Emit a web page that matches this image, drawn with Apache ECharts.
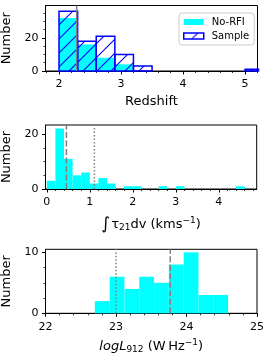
<!DOCTYPE html>
<html><head><meta charset="utf-8">
<script src="https://cdn.jsdelivr.net/npm/echarts@6/dist/echarts.min.js"></script>
<style>html,body{margin:0;padding:0;background:#fff}#c{width:269px;height:359px}</style>
</head><body><div id="c"></div>
<script>
// ---- Panel 1: redshift ----
const zBinLeft = [2.0, 2.3, 2.6, 2.9, 3.2, 5.0];
const zBinWidth = 0.3;
const zNoRFI = [32, 16, 8, 4, 0, 0];
const zSample = [36, 18, 21, 10, 3, 1];
const zMedian = 2.285;
const zTicks = [2, 3, 4, 5];
const zCountTicks = [0, 20];

// ---- Panel 2: integrated optical depth ----
const tauBinLeft = [0.0, 0.2, 0.4, 0.6, 0.8, 1.0, 1.2, 1.4, 1.8, 2.0, 2.6, 3.0, 4.4];
const tauBinWidth = 0.2;
const tauCounts = [3, 22, 11, 5, 6, 2, 4, 2, 1, 1, 1, 1, 1];
const tauDashed = 0.456;
const tauDotted = 1.107;
const tauTicks = [0, 1, 2, 3, 4];
const tauCountTicks = [0, 20];

// ---- Panel 3: log L912 ----
const lBinLeft = [22.70, 22.91, 23.12, 23.33, 23.54, 23.75, 23.96, 24.17, 24.38];
const lBinWidth = 0.21;
const lCounts = [2, 6, 4, 6, 5, 8, 10, 3, 3];
const lDotted = 23.0;
const lDashed = 23.77;
const lTicks = [22, 23, 24, 25];
const lCountTicks = [0, 10];

const FONT = 'DejaVu Sans';
const BLUE = '#0000ff', CYAN = '#00ffff', GRAY = '#808080';

function histData(left, w, counts) {
  return left.map((x, i) => [x, +(x + w).toFixed(4), counts[i]]);
}
function minors(min, max, step, majors) {
  const out = [];
  const n0 = Math.ceil(min / step - 1e-9), n1 = Math.floor(max / step + 1e-9);
  for (let n = n0; n <= n1; n++) {
    const v = +(n * step).toFixed(6);
    if (!majors.some(m => Math.abs(m - v) < 1e-6)) out.push(v);
  }
  return out;
}
function makeHatch() {
  const s = 14, c = document.createElement('canvas');
  c.width = c.height = s;
  const g = c.getContext('2d');
  g.strokeStyle = BLUE; g.lineWidth = 1.1;
  g.beginPath();
  g.moveTo(0, s); g.lineTo(s, 0);
  g.moveTo(-s / 2, s / 2); g.lineTo(s / 2, -s / 2);
  g.moveTo(s / 2, s * 1.5); g.lineTo(s * 1.5, s / 2);
  g.stroke();
  return c;
}
const hatch = { image: makeHatch(), repeat: 'repeat' };

function barRender(fill, stroke, lw) {
  return function (params, api) {
    const x0 = api.value(0), x1 = api.value(1), h = api.value(2);
    if (!h) return;
    const p0 = api.coord([x0, 0]), p1 = api.coord([x1, h]);
    const cs = params.coordSys;
    const r = echarts.graphic.clipRectByRect(
      { x: p0[0], y: p1[1], width: p1[0] - p0[0], height: p0[1] - p1[1] },
      { x: cs.x, y: cs.y, width: cs.width + 1, height: cs.height });
    if (!r) return;
    return { type: 'rect', shape: r, style: { fill: fill, stroke: stroke || null, lineWidth: lw || 0 } };
  };
}

const grids = [
  { left: 45.5, top: 5.5, width: 212, height: 65.5 },
  { left: 45.5, top: 125, width: 211.2, height: 64 },
  { left: 45.5, top: 249.3, width: 211.5, height: 64 }
];
const xr = [[1.782, 5.2], [-0.03, 4.88], [22, 25]];
const yr = [[0, 39.5], [0, 23.3], [0, 10.5]];
const xt = [zTicks, tauTicks, lTicks];
const yt = [zCountTicks, tauCountTicks, lCountTicks];
const xmStep = [0.2, 0.2, 0.2];
const ymStep = [5, 5, 2.5];

const xNames = [
  'Redshift',
  '{int|∫}{n|τ}{sub|21}{n|dv (kms}{sup|−1}{n|)}',
  '{it|logL}{sub|912}{n| (W\u2009Hz}{sup|−1}{n|)}'
];
const xNameGaps = [24, 27, 25];
const rich = {
  int: { fontSize: 17, fontFamily: FONT, color: '#000', padding: [0, 1, 0, 0] },
  n: { fontSize: 13, fontFamily: FONT, color: '#000' },
  it: { fontSize: 13, fontFamily: FONT, fontStyle: 'italic', color: '#000' },
  sub: { fontSize: 9, fontFamily: FONT, color: '#000', padding: [6, 0, 0, 0] },
  sup: { fontSize: 9, fontFamily: FONT, color: '#000', padding: [0, 0, 7, 0] }
};

const xAxis = [], yAxis = [];
for (let i = 0; i < 3; i++) {
  xAxis.push({
    type: 'value', gridIndex: i, min: xr[i][0], max: xr[i][1], position: 'bottom',
    axisLine: { show: true, onZero: false, lineStyle: { color: '#000', width: 1 } },
    axisTick: { show: true, inside: false, length: 3.5, customValues: xt[i], lineStyle: { color: '#000', width: 1 } },
    axisLabel: { customValues: xt[i], fontSize: 11, fontFamily: FONT, color: '#000', margin: 8 },
    splitLine: { show: false },
    name: xNames[i], nameLocation: 'middle', nameGap: xNameGaps[i],
    nameTextStyle: { fontSize: 13, fontFamily: FONT, color: '#000', rich: rich }
  });
  xAxis.push({
    type: 'value', gridIndex: i, min: xr[i][0], max: xr[i][1], position: 'bottom',
    axisLine: { show: false, onZero: false },
    axisTick: { show: true, inside: false, length: 2, customValues: minors(xr[i][0], xr[i][1], xmStep[i], xt[i]), lineStyle: { color: '#000', width: 0.8 } },
    axisLabel: { show: false }, splitLine: { show: false }
  });
  yAxis.push({
    type: 'value', gridIndex: i, min: yr[i][0], max: yr[i][1], position: 'left',
    axisLine: { show: true, onZero: false, lineStyle: { color: '#000', width: 1 } },
    axisTick: { show: true, inside: false, length: 3.5, customValues: yt[i], lineStyle: { color: '#000', width: 1 } },
    axisLabel: { customValues: yt[i], fontSize: 11, fontFamily: FONT, color: '#000', margin: 7 },
    splitLine: { show: false },
    name: 'Number', nameLocation: 'middle', nameGap: 25,
    nameTextStyle: { fontSize: 13, fontFamily: FONT, color: '#000' }
  });
  yAxis.push({
    type: 'value', gridIndex: i, min: yr[i][0], max: yr[i][1], position: 'left',
    axisLine: { show: false, onZero: false },
    axisTick: { show: true, inside: false, length: 2, customValues: minors(yr[i][0], yr[i][1], ymStep[i], yt[i]), lineStyle: { color: '#000', width: 0.8 } },
    axisLabel: { show: false }, splitLine: { show: false }
  });
}

function vline(name, panel, x, type) {
  return {
    name: name, type: 'line', xAxisIndex: panel * 2, yAxisIndex: panel * 2,
    data: [[x, yr[panel][0]], [x, yr[panel][1]]], symbol: 'none', silent: true, z: 6,
    lineStyle: { color: GRAY, width: 1.5, type: type }
  };
}
function hist(name, panel, data, fill, stroke, lw, z) {
  return {
    name: name, type: 'custom', xAxisIndex: panel * 2, yAxisIndex: panel * 2,
    data: data, encode: { x: [0, 1], y: 2 }, renderItem: barRender(fill, stroke, lw), z: z,
    itemStyle: { color: fill, borderColor: stroke || fill, borderWidth: lw || 0 }, silent: true
  };
}

const option = {
  animation: false,
  backgroundColor: '#fff',
  grid: grids.map(g => Object.assign({ show: true, borderColor: '#000', borderWidth: 1, backgroundColor: 'transparent', containLabel: false, outerBoundsMode: 'none' }, g)),
  xAxis: xAxis, yAxis: yAxis,
  legend: {
    left: 179, top: 13, orient: 'vertical', padding: [4, 5, 4, 4], itemGap: 4,
    itemWidth: 20, itemHeight: 6, icon: 'rect',
    backgroundColor: '#fff', borderColor: '#cccccc', borderWidth: 1, borderRadius: 3,
    textStyle: { fontSize: 10, fontFamily: FONT, color: '#000', padding: [0, 0, 0, 3] },
    data: [
      { name: 'No-RFI', itemStyle: { color: CYAN, borderWidth: 0 } },
      { name: 'Sample', itemStyle: { color: hatch, borderColor: BLUE, borderWidth: 1.5 } }
    ]
  },
  series: [
    hist('No-RFI', 0, histData(zBinLeft, zBinWidth, zNoRFI), CYAN, null, 0, 2),
    hist('Sample', 0, histData(zBinLeft, zBinWidth, zSample), hatch, BLUE, 1.5, 3),
    vline('median z', 0, zMedian, 'solid'),
    hist('tau', 1, histData(tauBinLeft, tauBinWidth, tauCounts), CYAN, null, 0, 2),
    vline('tau dashed', 1, tauDashed, [6, 2.5]),
    vline('tau dotted', 1, tauDotted, [1.5, 2]),
    hist('L912', 2, histData(lBinLeft, lBinWidth, lCounts), CYAN, null, 0, 2),
    vline('L dotted', 2, lDotted, [1.5, 2]),
    vline('L dashed', 2, lDashed, [6, 2.5])
  ]
};
const chart = echarts.init(document.getElementById('c'), null, { renderer: 'canvas' });
chart.setOption(option);
</script></body></html>
